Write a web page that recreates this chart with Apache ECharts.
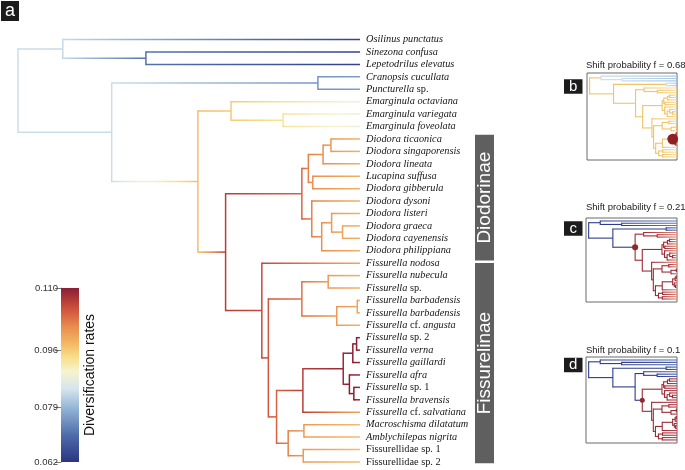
<!DOCTYPE html>
<html><head><meta charset="utf-8">
<script src="https://cdn.jsdelivr.net/npm/echarts@6/dist/echarts.min.js"></script>
<style>html,body{margin:0;padding:0;background:#fff}#c{width:685px;height:470px}</style>
</head><body><div id="c"></div>
<script>
// ---------------- DATA ----------------
const tipNames = ['Osilinus punctatus','Sinezona confusa','Lepetodrilus elevatus','Cranopsis cucullata','Puncturella sp.',
 'Emarginula octaviana','Emarginula variegata','Emarginula foveolata',
 'Diodora ticaonica','Diodora singaporensis','Diodora lineata','Lucapina suffusa','Diodora gibberula','Diodora dysoni',
 'Diodora listeri','Diodora graeca','Diodora cayenensis','Diodora philippiana',
 'Fissurella nodosa','Fissurella nubecula','Fissurella sp.','Fissurella barbadensis','Fissurella barbadensis','Fissurella cf. angusta',
 'Fissurella sp. 2','Fissurella verna','Fissurella gaillardi','Fissurella afra','Fissurella sp. 1','Fissurella bravensis',
 'Fissurella cf. salvatiana','Macroschisma dilatatum','Amblychilepas nigrita','Fissurellidae sp. 1','Fissurellidae sp. 2'];
const tipRate = [0.064,0.064,0.064,0.076,0.076,
 0.089,0.088,0.088,
 0.098,0.098,0.098,0.098,0.098,0.098,0.098,0.098,0.098,0.098,
 0.099,0.098,0.098,0.098,0.098,0.098,
 0.109,0.109,0.109,0.109,0.109,0.109,
 0.099,0.097,0.097,0.097,0.097];
// internal nodes: id, children (numbers = tip index), depth (root=0, tips=1), rate
const nodeIds   = ['root','A','B','C','D','E','F','G','H','I','J','K','L','M','N','O','P','Q','R','S','T','U','V','W','X','Y','Z','AA','AB','AC','AD','AE','AF','AG'];
const nodeKids  = [['A','C'],[0,'B'],[1,2],['D','E'],[3,4],['F','H'],[5,'G'],[6,7],['I','R'],['J','N'],['K','M'],['L',10],[8,9],[11,12],[13,'O'],['P',17],[14,'Q'],[15,16],
                   [18,'S'],['T','X'],['U','V'],[19,20],['W',23],[21,22],['Y','AE'],['Z',30],['AA','AC'],['AB',26],[24,25],[27,'AD'],[28,29],['AF','AG'],[31,32],[33,34]];
const nodeDepth = [0,0.131,0.374,0.274,0.877,0.526,0.623,0.775,0.607,0.830,0.849,0.892,0.915,0.862,0.859,0.888,0.917,0.949,
                   0.713,0.732,0.830,0.907,0.932,0.992,0.756,0.833,0.951,0.979,0.990,0.969,0.982,0.790,0.836,0.834];
const nodeRate  = [0.0835,0.083,0.071,0.0835,0.075,0.097,0.096,0.093,0.107,0.104,0.102,0.101,0.100,0.101,0.102,0.101,0.100,0.099,
                   0.106,0.105,0.103,0.100,0.100,0.099,0.104,0.107,0.109,0.110,0.110,0.110,0.110,0.102,0.100,0.100];
const rateTicks = [0.062,0.079,0.096,0.110];
const rateTickLabels = ['0.062','0.079','0.096','0.110'];
const cladeNames = ['Diodorinae','Fissurelinae'];
const cladeTips  = [[8,17],[18,34]];
const shiftNode  = ['Z','E','H'];
const shiftProb  = [0.68,0.21,0.1];
const insetLetters = ['b','c','d'];

// ---------------- STYLE ----------------
const tickPos = [0,0.316,0.644,1];
const rampPos = [0,0.15,0.30,0.42,0.52,0.60,0.68,0.78,0.88,1];
const rampCol = ['#2c3582','#4d6aa8','#8fb0d3','#d6e5ee','#f6f3cf','#f8e08a','#f3b866','#e88b4e','#cf513c','#8a1e35'];

function hex2rgb(h){return [parseInt(h.slice(1,3),16),parseInt(h.slice(3,5),16),parseInt(h.slice(5,7),16)];}
function tColor(t){ t=Math.max(0,Math.min(1,t));
  for(let i=1;i<rampPos.length;i++){ if(t<=rampPos[i]){ const f=(t-rampPos[i-1])/(rampPos[i]-rampPos[i-1]);
    const a=hex2rgb(rampCol[i-1]), b=hex2rgb(rampCol[i]); return 'rgb('+a.map((v,j)=>Math.round(v+(b[j]-v)*f)).join(',')+')'; } }
  return rampCol[rampCol.length-1]; }
function rateT(r){ for(let i=1;i<rateTicks.length;i++){ if(r<=rateTicks[i]) return tickPos[i-1]+(r-rateTicks[i-1])/(rateTicks[i]-rateTicks[i-1])*(tickPos[i]-tickPos[i-1]); } return 1; }
function rateColor(r){ return tColor(rateT(r)); }
function gradH(x1,x2,r1,r2){ const stops=[]; for(let s=0;s<=10;s++){ const f=s/10; stops.push({offset:f,color:rateColor(r1+(r2-r1)*f)}); }
  return {type:'linear',x:x1,y:0,x2:x2===x1?x1+1:x2,y2:0,global:true,colorStops:stops}; }

// ---------------- TREE LAYOUT ----------------
const info = {};
tipNames.forEach((n,t)=>{ info['t'+t]={depth:1,y:t,rate:tipRate[t],kids:null,tip:t}; });
const key = k => typeof k==='number' ? 't'+k : k;
nodeIds.forEach((id,i)=>{ info[id]={depth:nodeDepth[i],rate:nodeRate[i],kids:nodeKids[i].map(key)}; });
nodeIds.forEach(id=>info[id].kids.forEach(k=>{ info[k].parent=id; }));
function yOf(k){ const n=info[k]; if(n.y===undefined){ const ys=n.kids.map(yOf); n.y=(Math.min(...ys)+Math.max(...ys))/2; } return n.y; }
yOf('root');
const keys = Object.keys(info);
const treeData = keys.map((k,i)=>[info[k].depth, info[k].y, i]);

const roman = new Set(['sp.','cf.','1','2','Fissurellidae']);
function richLabel(name){ return name.split(' ').map(w=>roman.has(w)?'{n|'+w+'}':'{i|'+w+'}').join(' '); }
const labFont = {fontFamily:'Liberation Serif', fontSize:10.3, fill:'#151515', color:'#151515'};

function treeRender(opts){
  return function(params, api){
    const k = keys[api.value(2)]; const n = info[k];
    const p = api.coord([n.depth, n.y]);
    const ch = [];
    if(n.parent){
      const px = api.coord([info[n.parent].depth, n.y])[0];
      ch.push({type:'line', shape:{x1:px,y1:p[1],x2:p[0],y2:p[1]}, style:{stroke:opts.branch(k,px,p[0]), lineWidth:opts.lw}});
    }
    if(n.kids){
      const ys=n.kids.map(c=>info[c].y);
      const a=api.coord([n.depth,Math.min(...ys)]), b=api.coord([n.depth,Math.max(...ys)]);
      ch.push({type:'line', shape:{x1:a[0],y1:a[1]-opts.lw/2,x2:b[0],y2:b[1]+opts.lw/2}, style:{stroke:opts.vert(k), lineWidth:opts.lw}});
    }
    if(opts.extra) opts.extra(k,n,p,ch);
    return {type:'group', children:ch};
  };
}

const mainOpts = {
  lw:1.5,
  branch:(k,x1,x2)=>gradH(x1,x2,info[info[k].parent].rate,info[k].rate),
  vert:k=>rateColor(info[k].rate),
  extra:(k,n,p,ch)=>{ if(n.tip!==undefined){
    ch.push({type:'text', x:p[0]+6, y:p[1], style:Object.assign({text:richLabel(tipNames[n.tip]), align:'left', verticalAlign:'middle',
      rich:{i:Object.assign({fontStyle:'italic'},labFont), n:Object.assign({fontStyle:'normal'},labFont)}}, labFont)}); } }
};

const insetTheme = [
  {base:['#f0c466','#f7df9c'], extra:{A:['#cadcea','#a9c7e3'], D:['#cadcea','#a9c7e3']}, shift:['#b3322d','#d65a44'], dot:'#8e2020'},
  {base:['#2e3c8c','#6279b9'], extra:{}, shift:['#9e2a36','#ea8a72'], dot:'#8e2a2a'},
  {base:['#2e3c8c','#4c64ac'], extra:{}, shift:['#9e2a36','#b84452'], dot:'#8e2a2a'}
];
function insetOpts(i){
  const th=insetTheme[i], sn=shiftNode[i];
  const reg = k => { let c=k; while(c){ if(c===sn) return th.shift; if(th.extra[c]) return th.extra[c]; c=info[c].parent; } return th.base; };
  return {
    lw:1.1,
    branch:(k,x1,x2)=>{ if(k===sn||th.extra[k]) return reg(info[k].parent)[0];
      const r=reg(k); if(info[k].tip!==undefined) return {type:'linear',x:x1,y:0,x2:x2,y2:0,global:true,colorStops:[{offset:0,color:r[0]},{offset:1,color:r[1]}]};
      return r[0]; },
    vert:k=>reg(k)[0],
    extra:(k,n,p,ch)=>{ if(k===sn){ ch.push({type:'circle', shape:{cx:p[0],cy:p[1],r:2+5*shiftProb[i]}, style:{fill:th.dot}, z2:10}); } }
  };
}

function cladeRender(params, api){
  const i = api.value(0);
  const pads = [[-0.33,0.78],[-0.02,0.1]];
  const a = api.coord([1, cladeTips[i][0]+pads[i][0]]), b = api.coord([1, cladeTips[i][1]+pads[i][1]]);
  const x = a[0]+115, w = 19;
  return {type:'group', children:[
    {type:'rect', shape:{x:x,y:a[1],width:w,height:b[1]-a[1]}, style:{fill:'#5f5f5f'}},
    {type:'text', x:x+w/2+0.5, y:(a[1]+b[1])/2, rotation:Math.PI/2, style:{text:cladeNames[i], fill:'#fff', fontFamily:'Liberation Sans', fontSize:19, align:'center', verticalAlign:'middle'}}
  ]};
}

const insetBoxes = [{left:587,top:73,width:90,height:87},{left:586,top:218,width:91,height:84},{left:586,top:357,width:91,height:86}];
const titleTops = [59.5,202,345];
const letterTops = [79,221,357.5];

const grids = [{left:18, top:39.6, width:342, height:422.3}];
insetBoxes.forEach(b=>grids.push(Object.assign({show:true,borderColor:'#6a6a6a',borderWidth:1,backgroundColor:'#fff'},b)));
grids.push({left:61, top:288, width:18, height:174});

const xAxes=[{gridIndex:0,type:'value',min:0,max:1,show:false}];
const yAxes=[{gridIndex:0,type:'value',min:0,max:34,inverse:true,show:false}];
for(let i=1;i<=3;i++){ xAxes.push({gridIndex:i,type:'value',min:-0.03,max:1.0,show:false}); yAxes.push({gridIndex:i,type:'value',min:-1.3,max:35.3,inverse:true,show:false}); }
xAxes.push({gridIndex:4,type:'category',data:['rate'],show:false});
yAxes.push({gridIndex:4,type:'value',min:0,max:1,position:'left',
  axisLine:{show:true,lineStyle:{color:'#999',width:1}},
  axisTick:{show:true,length:6,customValues:tickPos,lineStyle:{color:'#777'}},
  axisLabel:{customValues:tickPos,margin:3,fontSize:9.5,color:'#333',fontFamily:'Liberation Sans',
    formatter:v=>{ let bi=0; tickPos.forEach((p,j)=>{ if(Math.abs(p-v)<Math.abs(tickPos[bi]-v)) bi=j; }); return rateTickLabels[bi]; }},
  splitLine:{show:false}});
yAxes.push({gridIndex:4,type:'value',min:0,max:1,position:'right',axisLine:{show:false},axisTick:{show:false},axisLabel:{show:false},splitLine:{show:false},
  name:'Diversification rates',nameLocation:'middle',nameRotate:90,nameGap:4,nameTextStyle:{fontSize:14,color:'#111',fontFamily:'Liberation Sans'}});

const series = [
  {type:'custom', xAxisIndex:0, yAxisIndex:0, clip:false, silent:true, renderItem:treeRender(mainOpts), data:treeData, encode:{x:0,y:1}},
  {type:'custom', xAxisIndex:0, yAxisIndex:0, clip:false, silent:true, renderItem:cladeRender, data:cladeNames.map((n,i)=>[i]), encode:{x:0}}
];
for(let i=0;i<3;i++) series.push({type:'custom', xAxisIndex:i+1, yAxisIndex:i+1, clip:false, silent:true, renderItem:treeRender(insetOpts(i)), data:treeData, encode:{x:0,y:1}});
series.push({type:'bar', xAxisIndex:4, yAxisIndex:4, data:[1], barWidth:'100%', silent:true,
  itemStyle:{color:{type:'linear',x:0,y:0,x2:0,y2:1,colorStops:rampPos.map((p,i)=>({offset:1-p,color:rampCol[i]})).reverse()}}});

const titles = shiftProb.map((p,i)=>({text:'Shift probability f = '+p, left:586, top:titleTops[i], padding:0,
  textStyle:{fontSize:9.5,fontWeight:'normal',color:'#222',fontFamily:'Liberation Sans',lineHeight:11}}));

function letterBox(ch,left,top,w,h,fs){
  return {type:'group', left:left, top:top, children:[
    {type:'rect', shape:{x:0,y:0,width:w,height:h}, style:{fill:'#1c1c1c'}},
    {type:'text', x:w/2, y:h/2, style:{text:ch, fill:'#fff', fontFamily:'Liberation Sans', fontSize:fs, align:'center', verticalAlign:'middle'}}
  ]};
}
const graphics = [letterBox('a',1,1,18,20,18)];
insetLetters.forEach((l,i)=>graphics.push(letterBox(l,564,letterTops[i],18.5,14.5,15)));

const chart = echarts.init(document.getElementById('c'));
chart.setOption({animation:false, backgroundColor:'#fff', title:titles, grid:grids, xAxis:xAxes, yAxis:yAxes, series:series, graphic:graphics});
</script></body></html>
